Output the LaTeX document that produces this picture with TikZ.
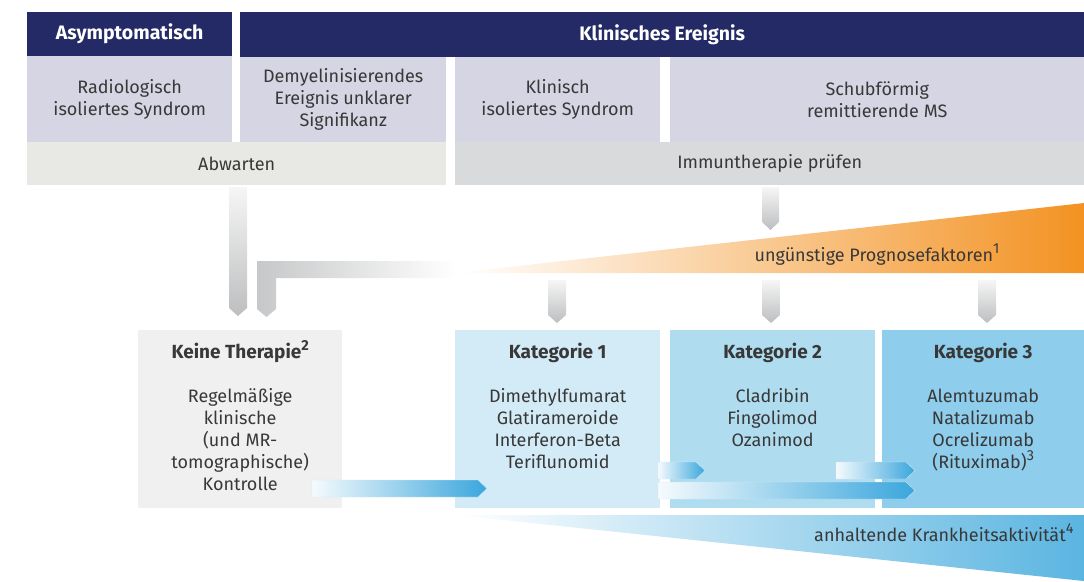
\documentclass[tikz,border=0pt]{standalone}
\usepackage{fontspec}
\setmainfont{Fira Sans}
\usetikzlibrary{positioning}
\definecolor{navy}{HTML}{232A66}
\definecolor{lav}{HTML}{D5D5E3}
\definecolor{abw}{HTML}{E8E8E4}
\definecolor{imm}{HTML}{D9DADC}
\definecolor{keine}{HTML}{F0F0F0}
\definecolor{kat1c}{HTML}{D3EBF7}
\definecolor{kat2c}{HTML}{B0DCF0}
\definecolor{kat3c}{HTML}{8ECDEC}
\definecolor{orng}{HTML}{F39222}
\definecolor{bluearr}{HTML}{3AA6DC}
\definecolor{wedgeblue}{HTML}{5AB5E1}
\definecolor{txt}{HTML}{383838}
\definecolor{grayL}{HTML}{F6F6F6}
\definecolor{grayD}{HTML}{BCBEBF}
\newcommand{\hoch}[1]{\smash{\raisebox{0.85ex}{\fontsize{14.5}{14.5}\selectfont #1}}}
\begin{document}
\begin{tikzpicture}[x=1pt,y=-1pt,font=\fontsize{18}{22}\selectfont,
  hdr/.style={fill=navy,text=white,font=\fontsize{19.5}{22}\selectfont\bfseries,anchor=north west,inner sep=0pt},
  cell/.style={fill=lav,text=txt,align=center,anchor=north west,inner sep=0pt},
  katbox/.style={anchor=north west,inner sep=0pt,minimum height=178pt},
  kattext/.style={text=txt,align=center,inner sep=0pt,anchor=north},
  garrow/.style={top color=grayL,bottom color=grayD},
  barrow/.style={left color=bluearr!5,right color=bluearr,draw=bluearr!25,line width=0.4pt}]
\useasboundingbox (0,0) rectangle (1084,581);
% Kopfzeile
\node[hdr,minimum width=205pt,minimum height=44pt] (asym) at (27,12) {Asymptomatisch};
\node[hdr,minimum width=844pt,minimum height=45pt] (klin) at (240,12) {Klinisches Ereignis};
% Diagnosen
\node[cell,minimum width=205pt,minimum height=86pt] (ris) at (27,56) {Radiologisch\\isoliertes Syndrom};
\node[cell,minimum width=206pt,minimum height=85pt] (dis) at (240,57) {Demyelinisierendes\\Ereignis unklarer\\Signifikanz};
\node[cell,minimum width=205pt,minimum height=85pt] (cis) at (455,57) {Klinisch\\isoliertes Syndrom};
\node[cell,minimum width=414pt,minimum height=85pt] (rms) at (670,57) {Schubförmig\\remittierende MS};
% Vorgehen
\node[cell,fill=abw,minimum width=419pt,minimum height=43pt] (abwarten) at (27,142) {Abwarten};
\node[cell,fill=imm,minimum width=629pt,minimum height=43pt] (pruefen) at (455,142) {Immuntherapie prüfen};
% Prognosefaktoren
\shade[left color=white,right color=orng] (455,273) -- (1084,203) -- (1084,273) -- cycle;
\node[text=txt] (prog) at (877,256) {ungünstige Prognosefaktoren\hoch{1}};
% graue Pfeile
\shade[garrow] (229,187) -- (247,187) -- (247,308) -- (238,316) -- (229,308) -- cycle;
\shade[left color=grayD!85,right color=white] (455,261) -- (257,261) -- (257,309) -- (266.5,317)
  -- (276,309) -- (276,278) -- (455,278) -- cycle;
\shade[garrow] (762,187) -- (779,187) -- (779,222) -- (770.5,230) -- (762,222) -- cycle;
\foreach \x in {548,762,978}
  \shade[garrow] (\x,280) -- (\x+18,280) -- (\x+18,315) -- (\x+9,323) -- (\x,315) -- cycle;
% Therapiekategorien
\node[katbox,fill=keine,minimum width=204pt] (keine) at (138,330) {};
\node[katbox,fill=kat1c,minimum width=205pt] (kat1) at (455,330) {};
\node[katbox,fill=kat2c,minimum width=205pt] (kat2) at (670,330) {};
\node[katbox,fill=kat3c,minimum width=202pt] (kat3) at (882,330) {};
\node[kattext,below=13pt of keine.north] (keinetxt) {\rule{0pt}{15pt}{\bfseries\fontsize{19}{22}\selectfont Keine Therapie\hoch{2}}\\[22pt]
  Regelmäßige\\klinische\\(und MR-\\tomographische)\\Kontrolle};
\node[kattext,below=13pt of kat1.north] (kat1txt) {\rule{0pt}{15pt}{\bfseries\fontsize{19}{22}\selectfont Kategorie 1}\\[22pt]
  Dimethylfumarat\\Glatirameroide\\Interferon-Beta\\Teriflunomid};
\node[kattext,below=13pt of kat2.north] (kat2txt) {\rule{0pt}{15pt}{\bfseries\fontsize{19}{22}\selectfont Kategorie 2}\\[22pt]
  Cladribin\\Fingolimod\\Ozanimod};
\node[kattext,below=13pt of kat3.north] (kat3txt) {\rule{0pt}{15pt}{\bfseries\fontsize{19}{22}\selectfont Kategorie 3}\\[22pt]
  Alemtuzumab\\Natalizumab\\Ocrelizumab\\(Rituximab)\hoch{3}};
% blaue Pfeile
\shade[barrow] (312,480) -- (478,480) -- (487,488.5) -- (478,497) -- (312,497) -- cycle;
\shade[barrow] (658,462) -- (696,462) -- (705,470.5) -- (696,479) -- (658,479) -- cycle;
\shade[barrow] (836,462) -- (906,462) -- (915,470.5) -- (906,479) -- (836,479) -- cycle;
\shade[barrow] (658,482) -- (906,482) -- (915,490.5) -- (906,499) -- (658,499) -- cycle;
% Krankheitsaktivitaet
\shade[left color=white,right color=wedgeblue] (455,515) -- (1084,515) -- (1084,581) -- cycle;
\node[anchor=east,text=txt] (aktiv) at (1077,535) {anhaltende Krankheitsaktivität\hoch{4}};
\end{tikzpicture}
\end{document}
